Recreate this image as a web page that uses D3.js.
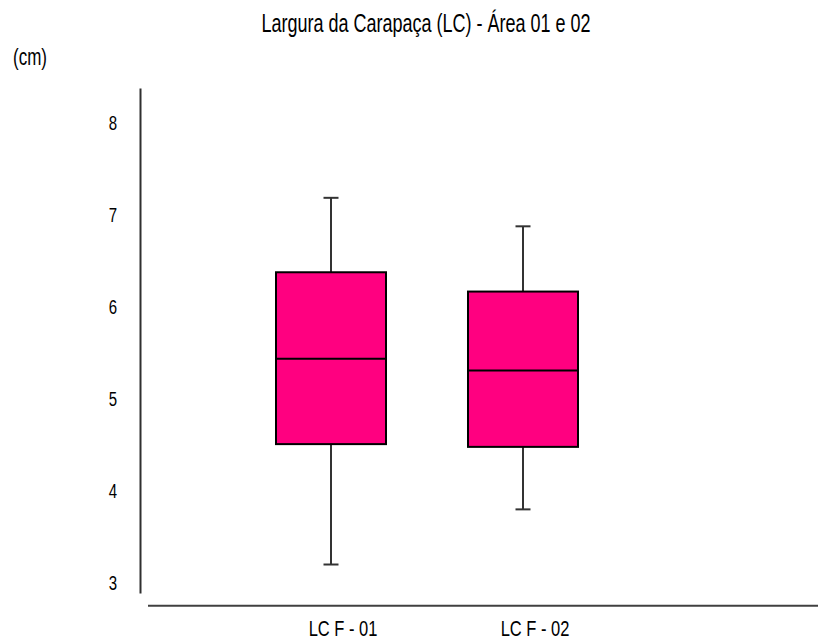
<!DOCTYPE html>
<html>
<head>
<meta charset="utf-8">
<script src="https://cdn.jsdelivr.net/npm/d3@7"></script>
<style>
  html, body { margin: 0; padding: 0; background: #fff; }
  svg { display: block; }
  text { font-family: "Liberation Sans", Arial, sans-serif; fill: #000; }
</style>
</head>
<body>
<svg id="chart" width="818" height="641"></svg>
<script>
// ---- data ----
const categories = ["LC F - 01", "LC F - 02"];
const mins    = [3.19, 3.79];
const q1s     = [4.50, 4.47];
const medians = [5.43, 5.30];
const q3s     = [6.37, 6.16];
const maxs    = [7.18, 6.87];
const yTicks  = [3, 4, 5, 6, 7, 8];
const titleText = "Largura da Carapaça (LC) - Área 01 e 02";
const unitText = "(cm)";

// ---- layout ----
const stretch = 1.38;           // reference text is vertically stretched
const boxW = 110, capW = 15;
const fill = "#FF0080";

const svg = d3.select("#chart");

const y = d3.scaleLinear().domain([2.88, 8.375]).range([593, 88]);
const x = d3.scalePoint().domain(categories).range([331, 523]);

// title
svg.append("text")
  .attr("transform", `translate(426,23) scale(1,${stretch})`)
  .attr("text-anchor", "middle")
  .attr("dy", "0.36em")
  .style("font-size", "18px")
  .text(titleText);

svg.append("text")
  .attr("transform", `translate(13,57) scale(1,${stretch})`)
  .attr("text-anchor", "start")
  .attr("dy", "0.36em")
  .style("font-size", "17px")
  .text(unitText);

// y axis
const yAxis = svg.append("g")
  .attr("transform", "translate(140,0)")
  .call(d3.axisLeft(y).tickValues(yTicks).tickSize(0).tickSizeOuter(0).tickPadding(23).tickFormat(d3.format("d")));
yAxis.select(".domain").attr("stroke", "#303030").attr("stroke-width", 2);
yAxis.selectAll("text")
  .attr("transform", `scale(1,${stretch})`)
  .attr("dy", "0.36em")
  .style("font-size", "15px")
  .style("font-family", "'Liberation Sans', Arial, sans-serif")
  .attr("fill", "#000");

// x axis line
const xLine = d3.scaleLinear().domain([0, 1]).range([148, 818]);
svg.append("line")
  .attr("x1", xLine(0)).attr("x2", xLine(1))
  .attr("y1", 605.7).attr("y2", 605.7)
  .attr("stroke", "#404040").attr("stroke-width", 2);

svg.append("g").selectAll("text").data(categories).join("text")
  .attr("transform", d => `translate(${x(d) + 12},628) scale(1,${stretch})`)
  .attr("text-anchor", "middle")
  .attr("dy", "0.36em")
  .style("font-size", "16.5px")
  .text(d => d);

// boxes
const data = categories.map((c, i) => ({c, min: mins[i], q1: q1s[i], med: medians[i], q3: q3s[i], max: maxs[i]}));
const g = svg.append("g").selectAll("g").data(data).join("g");

// whiskers
g.append("line")
  .attr("x1", d => x(d.c)).attr("x2", d => x(d.c))
  .attr("y1", d => y(d.max)).attr("y2", d => y(d.q3))
  .attr("stroke", "#333").attr("stroke-width", 2);
g.append("line")
  .attr("x1", d => x(d.c)).attr("x2", d => x(d.c))
  .attr("y1", d => y(d.q1)).attr("y2", d => y(d.min))
  .attr("stroke", "#333").attr("stroke-width", 2);
g.append("line")
  .attr("x1", d => x(d.c) - capW / 2).attr("x2", d => x(d.c) + capW / 2)
  .attr("y1", d => y(d.max)).attr("y2", d => y(d.max))
  .attr("stroke", "#333").attr("stroke-width", 2);
g.append("line")
  .attr("x1", d => x(d.c) - capW / 2).attr("x2", d => x(d.c) + capW / 2)
  .attr("y1", d => y(d.min)).attr("y2", d => y(d.min))
  .attr("stroke", "#333").attr("stroke-width", 2);

g.append("rect")
  .attr("x", d => x(d.c) - boxW / 2)
  .attr("width", boxW)
  .attr("y", d => y(d.q3))
  .attr("height", d => y(d.q1) - y(d.q3))
  .attr("fill", fill)
  .attr("stroke", "#000").attr("stroke-width", 2);

g.append("line")
  .attr("x1", d => x(d.c) - boxW / 2).attr("x2", d => x(d.c) + boxW / 2)
  .attr("y1", d => y(d.med)).attr("y2", d => y(d.med))
  .attr("stroke", "#000").attr("stroke-width", 2);
</script>
</body>
</html>
